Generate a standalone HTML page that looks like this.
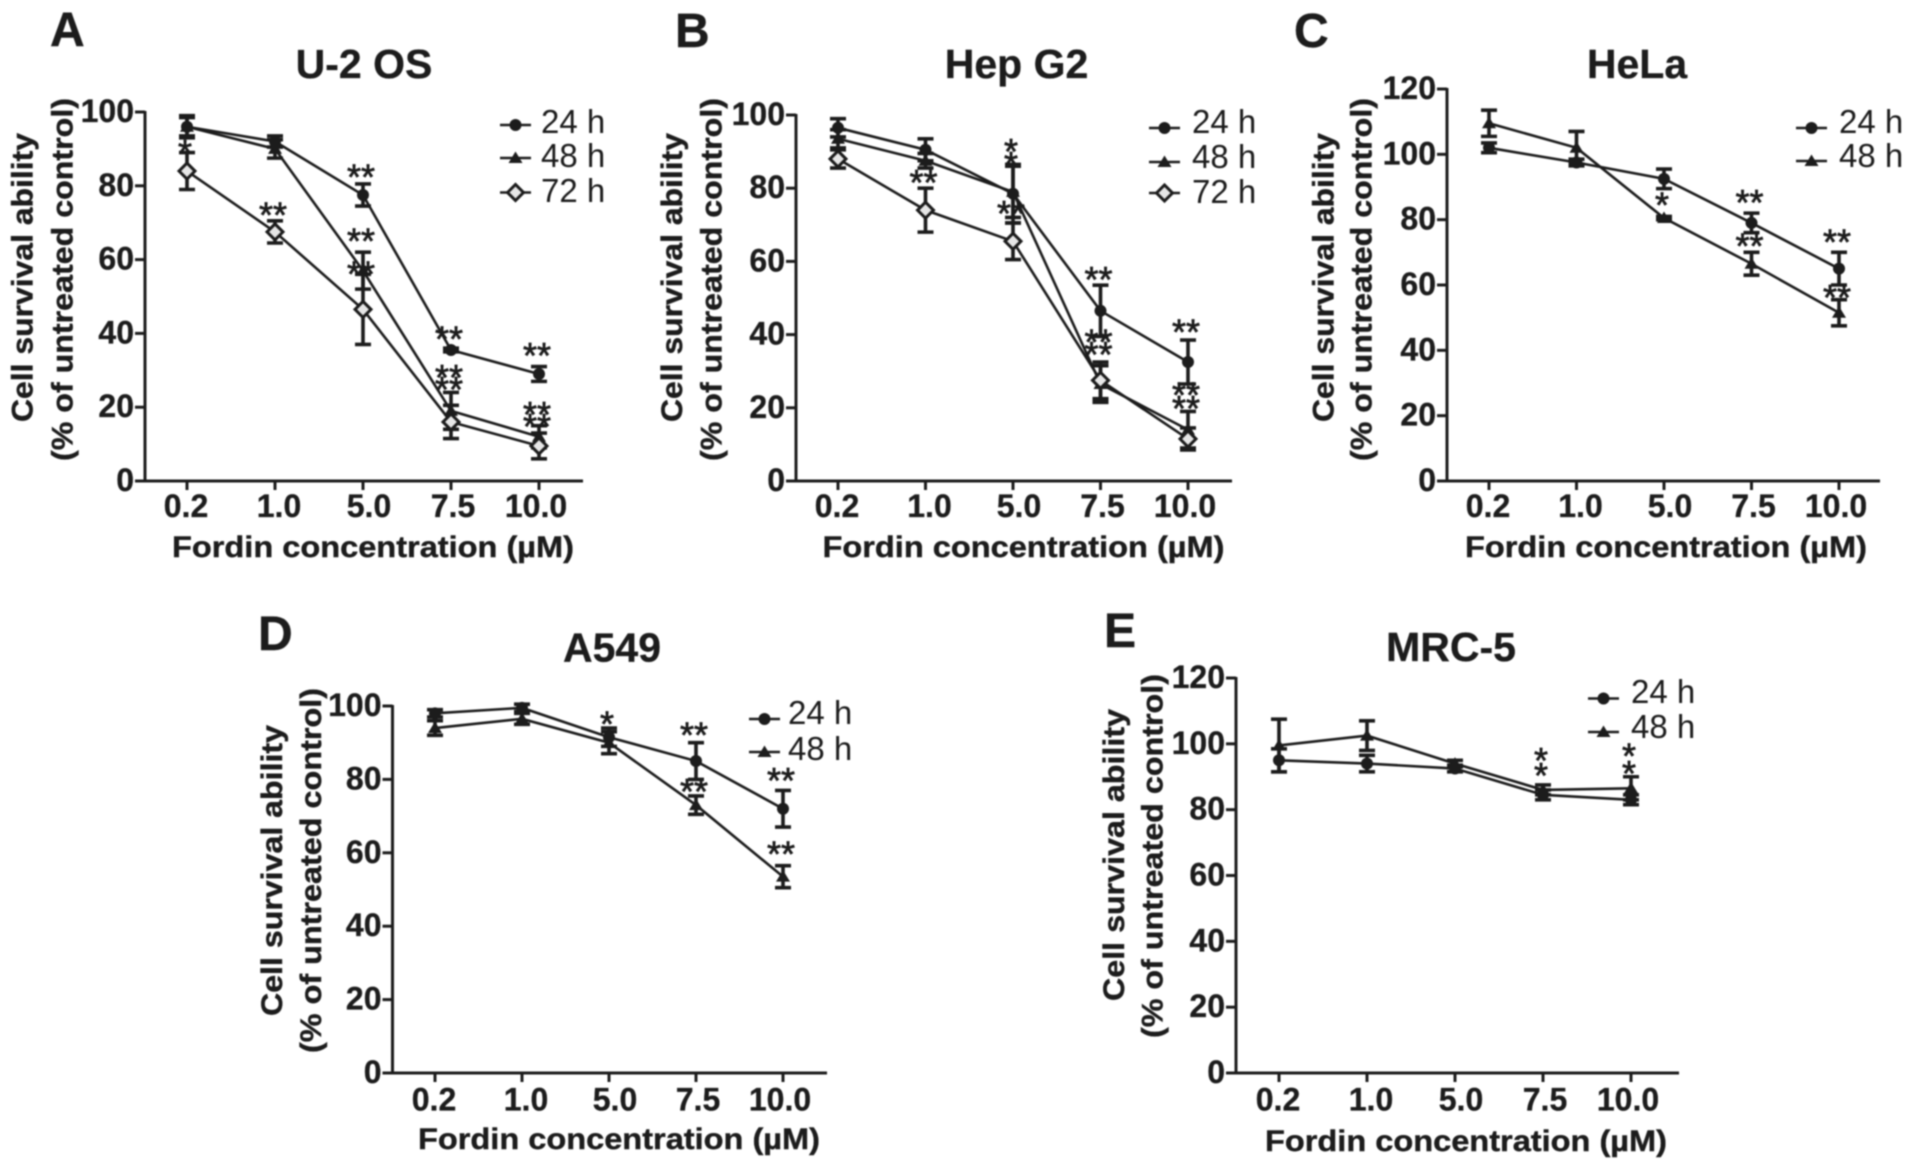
<!DOCTYPE html>
<html lang="en">
<head>
<meta charset="utf-8">
<title>Fordin concentration survival charts</title>
<style>
html,body{margin:0;padding:0;background:#fff;width:1913px;height:1169px;overflow:hidden}
svg{display:block;filter:blur(.7px)}
text{font-family:"Liberation Sans",Arial,sans-serif;fill:#1c1c1c}
.letter{font-size:48px;font-weight:700;stroke:#1c1c1c;stroke-width:.4px}
.title{font-size:41px;font-weight:700;text-anchor:middle;stroke:#1c1c1c;stroke-width:.3px}
.axis-title{font-size:30px;font-weight:700;text-anchor:middle;stroke:#1c1c1c;stroke-width:.4px}
.tick{font-size:32px;font-weight:700;stroke:#1c1c1c;stroke-width:.3px}
.legend{font-size:33px}
.star{font-size:36px;text-anchor:middle;stroke:#1c1c1c;stroke-width:.7px}
</style>
</head>
<body>
<svg id="figure" xmlns="http://www.w3.org/2000/svg" width="1913" height="1169" viewBox="0 0 1913 1169">
  <rect width="1913" height="1169" fill="#fff"/>

  <text class="letter" x="50" y="46">A</text>
  <text class="title" x="364" y="78">U-2 OS</text>
  <text class="axis-title" transform="translate(32.5 277.5) rotate(-90)" textLength="289" lengthAdjust="spacingAndGlyphs">Cell survival ability</text>
  <text class="axis-title" transform="translate(72.5 279.5) rotate(-90)" textLength="363" lengthAdjust="spacingAndGlyphs">(% of untreated control)</text>
  <text class="axis-title" x="373" y="557" textLength="402" lengthAdjust="spacingAndGlyphs">Fordin concentration (µM)</text>

  <text class="letter" x="675" y="47">B</text>
  <text class="title" x="1016.5" y="78">Hep G2</text>
  <text class="axis-title" transform="translate(682 277.5) rotate(-90)" textLength="289" lengthAdjust="spacingAndGlyphs">Cell survival ability</text>
  <text class="axis-title" transform="translate(721.5 279.5) rotate(-90)" textLength="363" lengthAdjust="spacingAndGlyphs">(% of untreated control)</text>
  <text class="axis-title" x="1023.5" y="557" textLength="402" lengthAdjust="spacingAndGlyphs">Fordin concentration (µM)</text>

  <text class="letter" x="1294" y="47">C</text>
  <text class="title" x="1637" y="78">HeLa</text>
  <text class="axis-title" transform="translate(1333.5 277.5) rotate(-90)" textLength="289" lengthAdjust="spacingAndGlyphs">Cell survival ability</text>
  <text class="axis-title" transform="translate(1371.5 279.5) rotate(-90)" textLength="363" lengthAdjust="spacingAndGlyphs">(% of untreated control)</text>
  <text class="axis-title" x="1666" y="557" textLength="402" lengthAdjust="spacingAndGlyphs">Fordin concentration (µM)</text>

  <text class="letter" x="258" y="650">D</text>
  <text class="title" x="612" y="661.5">A549</text>
  <text class="axis-title" transform="translate(282 870.5) rotate(-90)" textLength="291" lengthAdjust="spacingAndGlyphs">Cell survival ability</text>
  <text class="axis-title" transform="translate(321 870.5) rotate(-90)" textLength="365" lengthAdjust="spacingAndGlyphs">(% of untreated control)</text>
  <text class="axis-title" x="619" y="1149" textLength="402" lengthAdjust="spacingAndGlyphs">Fordin concentration (µM)</text>

  <text class="letter" x="1104" y="647">E</text>
  <text class="title" x="1451" y="661">MRC-5</text>
  <text class="axis-title" transform="translate(1124 855) rotate(-90)" textLength="292" lengthAdjust="spacingAndGlyphs">Cell survival ability</text>
  <text class="axis-title" transform="translate(1162.5 856) rotate(-90)" textLength="364" lengthAdjust="spacingAndGlyphs">(% of untreated control)</text>
  <text class="axis-title" x="1466" y="1151" textLength="402" lengthAdjust="spacingAndGlyphs">Fordin concentration (µM)</text>
</svg>

<script>
const categories = ["0.2", "1.0", "5.0", "7.5", "10.0"];
const seriesNames = ["24 h", "48 h", "72 h"];
const ticks100 = [0, 20, 40, 60, 80, 100];
const ticks120 = [0, 20, 40, 60, 80, 100, 120];

const aValues24 = [96, 92, 77.5, 35.5, 29];
const aErrors24 = [3, 1.5, 3, 0.5, 2];
const aValues48 = [96, 90, 57, 19, 12];
const aErrors48 = [2.5, 2.5, 5, 5, 3];
const aValues72 = [84, 67.5, 46.5, 16, 9.5];
const aErrors72 = [5, 3, 9.5, 4.5, 3.5];
const aStarLabels = ["*", "**", "**", "**", "**", "**", "**", "**", "**", "**", "**"];
const aStarCats = [0, 1, 2, 2, 2, 3, 3, 3, 4, 4, 4];
const aStarHeights = [90, 73, 83.4, 66, 57, 39.4, 29, 25.7, 35, 19, 15.7];

const bValues24 = [96.5, 90.5, 78.5, 46.5, 32.5];
const bErrors24 = [2.5, 3, 8, 7, 6];
const bValues48 = [93.5, 87.5, 79, 26.5, 14];
const bErrors48 = [2.5, 2, 7, 5, 5];
const bValues72 = [88, 74, 65.5, 27.5, 11.5];
const bErrors72 = [2.5, 6, 5, 5, 3];
const bStarLabels = ["*", "*", "**", "**", "**", "**", "**", "**", "**", "**"];
const bStarCats = [2, 2, 1, 2, 3, 3, 3, 4, 4, 4];
const bStarHeights = [91, 87.4, 82.5, 74, 56, 39, 35.5, 41.6, 24.4, 20.7];

const cValues24 = [102, 97.5, 92.5, 79, 65];
const cErrors24 = [1.5, 1, 3, 3, 5];
const cValues48 = [109.5, 102, 80.5, 66.5, 51.5];
const cErrors48 = [4, 5, 0.5, 3.5, 4];
const cStarLabels = ["*", "**", "**", "**", "**"];
const cStarCats = [2, 3, 3, 4, 4];
const cStarHeights = [85.5, 86.3, 73, 74.2, 57.2];

const dValues24 = [98, 99.5, 91.5, 85, 72];
const dErrors24 = [1, 1, 2.5, 5, 5];
const dValues48 = [94, 96.5, 90, 73, 53.5];
const dErrors48 = [2, 1.5, 3, 2.5, 3];
const dStarLabels = ["*", "**", "**", "**", "**"];
const dStarCats = [2, 3, 3, 4, 4];
const dStarHeights = [96, 93, 77.6, 80.6, 60.6];

const eValues24 = [95, 94, 92.5, 84.5, 83];
const eErrors24 = [3.5, 2.5, 1, 1.5, 1.5];
const eValues48 = [99.5, 102.5, 94, 86, 86.5];
const eErrors48 = [8, 4.5, 1, 1.5, 3.5];
const eStarLabels = ["*", "*", "*", "*"];
const eStarCats = [3, 3, 4, 4];
const eStarHeights = [96, 91.5, 97.4, 92];

const NS = "http://www.w3.org/2000/svg";
const figure = document.getElementById("figure");
const INK = "#1c1c1c";
const labelNudge = [-1, 4, 6, 2, -3];

function make(parent, tag, attrs, content) {
  const el = document.createElementNS(NS, tag);
  for (const k in attrs) el.setAttribute(k, attrs[k]);
  if (content !== undefined) el.textContent = content;
  parent.appendChild(el);
  return el;
}

function drawMarker(parent, kind, x, y) {
  let el;
  if (kind === 0) {
    el = make(parent, "circle", { cx: x, cy: y, r: 6, fill: INK });
  } else if (kind === 1) {
    el = make(parent, "polygon", { points: (x - 7) + "," + (y + 5) + " " + x + "," + (y - 6.5) + " " + (x + 7) + "," + (y + 5), fill: INK });
  } else {
    el = make(parent, "polygon", { points: (x - 8) + "," + y + " " + x + "," + (y - 8) + " " + (x + 8) + "," + y + " " + x + "," + (y + 8), fill: "#e6e6e6", stroke: INK, "stroke-width": 3 });
  }
  
  
}

function drawPanel(panel) {
  const g = make(figure, "g", {});
  
  

  const xPos = i => panel.x0 + panel.xStep * i;
  const yPos = v => panel.yZero - v * (panel.yZero - panel.yTop) / panel.yMax;

  const yAxis = make(g, "line", { x1: panel.axisX, x2: panel.axisX, y1: panel.yTop - 1, y2: panel.yZero + 1, stroke: INK, "stroke-width": 3 });
  
  

  const xAxis = make(g, "line", { x1: panel.axisX - 10, x2: panel.xEnd, y1: panel.yZero, y2: panel.yZero, stroke: INK, "stroke-width": 3 });
  
  

  panel.yTicks.forEach(v => {
    const t = make(g, "line", { x1: panel.axisX - 10, x2: panel.axisX, y1: yPos(v), y2: yPos(v), stroke: INK, "stroke-width": 3 });
    
    
    const l = make(g, "text", { class: "tick", x: panel.axisX - 11, y: yPos(v) + 10, "text-anchor": "end" }, String(v));
    
    
  });

  categories.forEach((c, i) => {
    const t = make(g, "line", { x1: xPos(i), x2: xPos(i), y1: panel.yZero, y2: panel.yZero + 9, stroke: INK, "stroke-width": 3 });
    
    
    const l = make(g, "text", { class: "tick", x: xPos(i) + labelNudge[i], y: panel.tickBase, "text-anchor": "middle" }, c);
    
    
  });

  panel.series.forEach((s, k) => {
    const sg = make(g, "g", {});
    
    

    const line = make(sg, "polyline", { points: s.values.map((v, i) => xPos(i) + "," + yPos(v)).join(" "), fill: "none", stroke: INK, "stroke-width": 2.6 });
    
    

    s.values.forEach((v, i) => {
      const top = yPos(v + s.errors[i]), bot = yPos(v - s.errors[i]), x = xPos(i);
      const eb = make(sg, "path", { d: "M" + (x - 8) + " " + top + "H" + (x + 8) + "M" + x + " " + top + "V" + bot + "M" + (x - 8) + " " + bot + "H" + (x + 8), fill: "none", stroke: INK, "stroke-width": 3.6 });
      
      
    });
    s.values.forEach((v, i) => drawMarker(sg, k, xPos(i), yPos(v)));
  });

  panel.starLabels.forEach((label, i) => {
    const st = make(g, "text", { class: "star", x: xPos(panel.starCats[i]) - 2, y: yPos(panel.starHeights[i]) + 16 }, label);
    
    
  });

  panel.series.forEach((s, k) => {
    const ln = make(g, "line", { x1: panel.legX, x2: panel.legX + 31, y1: panel.legY[k], y2: panel.legY[k], stroke: INK, "stroke-width": 2.6 });
    
    
    drawMarker(g, k, panel.legX + 15.5, panel.legY[k]);
    const lt = make(g, "text", { class: "legend", x: panel.legText, y: panel.legBase[k] }, seriesNames[k]);
    
    
  });
}

drawPanel({ id: "a", axisX: 145, x0: 187, xStep: 88, xEnd: 583, yTop: 112, yZero: 481, yMax: 100, yTicks: ticks100, tickBase: 517,
  series: [{ values: aValues24, errors: aErrors24 }, { values: aValues48, errors: aErrors48 }, { values: aValues72, errors: aErrors72 }],
  starLabels: aStarLabels, starCats: aStarCats, starHeights: aStarHeights,
  legX: 500, legY: [125, 158, 192.5], legText: 541, legBase: [133, 167, 202] });

drawPanel({ id: "b", axisX: 796, x0: 838, xStep: 87.5, xEnd: 1232, yTop: 115, yZero: 481, yMax: 100, yTicks: ticks100, tickBase: 517,
  series: [{ values: bValues24, errors: bErrors24 }, { values: bValues48, errors: bErrors48 }, { values: bValues72, errors: bErrors72 }],
  starLabels: bStarLabels, starCats: bStarCats, starHeights: bStarHeights,
  legX: 1149, legY: [128, 162, 193], legText: 1192, legBase: [133, 168, 203] });

drawPanel({ id: "c", axisX: 1447, x0: 1489, xStep: 87.5, xEnd: 1880, yTop: 89, yZero: 481, yMax: 120, yTicks: ticks120, tickBase: 517,
  series: [{ values: cValues24, errors: cErrors24 }, { values: cValues48, errors: cErrors48 }],
  starLabels: cStarLabels, starCats: cStarCats, starHeights: cStarHeights,
  legX: 1796, legY: [128, 161], legText: 1839, legBase: [133, 167] });

drawPanel({ id: "d", axisX: 392.5, x0: 435, xStep: 87, xEnd: 827, yTop: 706, yZero: 1073, yMax: 100, yTicks: ticks100, tickBase: 1110.5,
  series: [{ values: dValues24, errors: dErrors24 }, { values: dValues48, errors: dErrors48 }],
  starLabels: dStarLabels, starCats: dStarCats, starHeights: dStarHeights,
  legX: 749, legY: [719, 752], legText: 788, legBase: [724, 760] });

drawPanel({ id: "e", axisX: 1236, x0: 1279, xStep: 88, xEnd: 1679, yTop: 678, yZero: 1073, yMax: 120, yTicks: ticks120, tickBase: 1110.5,
  series: [{ values: eValues24, errors: eErrors24 }, { values: eValues48, errors: eErrors48 }],
  starLabels: eStarLabels, starCats: eStarCats, starHeights: eStarHeights,
  legX: 1588, legY: [698.5, 732], legText: 1631, legBase: [703, 738] });
</script>
</body>
</html>
